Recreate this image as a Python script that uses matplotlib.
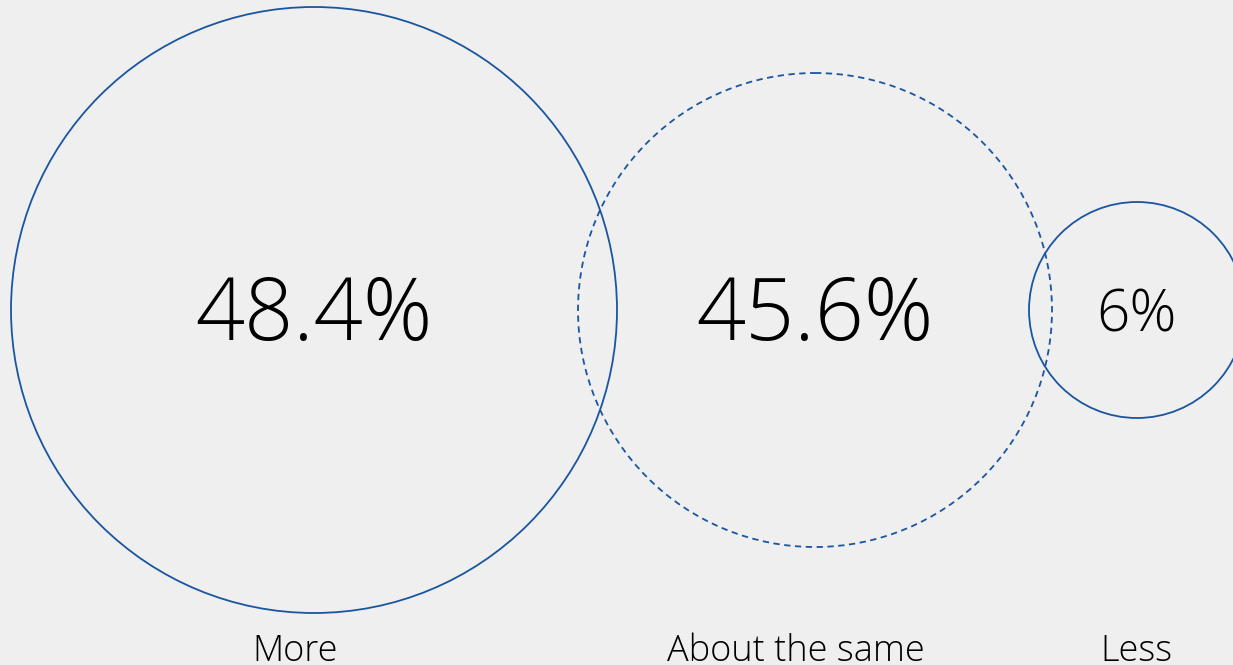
import matplotlib
matplotlib.use("Agg")
import matplotlib.pyplot as plt
from matplotlib.patches import Circle

categories = ["More", "About the same", "Less"]
values = [48.4, 45.6, 6]
value_labels = ["48.4%", "45.6%", "6%"]

# layout (pixel space)
centers_x = [314, 815, 1137]
center_y = 310
radii = [303, 237, 108]
linestyles = ["-", (0, (3.5, 2.5)), "-"]
value_sizes = [62, 62, 42]
value_baselines = [340, 340, 331]
label_x = [295, 796, 1136]

bg = "#efefef"
blue = "#1a55a0"

W, H = 1233, 665
fig = plt.figure(figsize=(W / 100, H / 100), dpi=100, facecolor=bg)
ax = fig.add_axes([0, 0, 1, 1])
ax.set_facecolor(bg)
ax.set_xlim(0, W)
ax.set_ylim(H, 0)
ax.set_aspect("equal")
ax.axis("off")

font = ["Open Sans", "DejaVu Sans"]

for i, cat in enumerate(categories):
    c = Circle((centers_x[i], center_y), radii[i], fill=False, edgecolor=blue,
               linewidth=1.3, linestyle=linestyles[i])
    ax.add_patch(c)
    ax.text(centers_x[i], value_baselines[i], value_labels[i], ha="center", va="baseline",
            fontsize=value_sizes[i], family=font, fontweight="light", color="#000000")
    ax.text(label_x[i], 661, cat, ha="center", va="baseline", fontsize=26,
            family=font, fontweight="light", color="#000000")

fig.savefig("out.png", dpi=100, facecolor=bg)
